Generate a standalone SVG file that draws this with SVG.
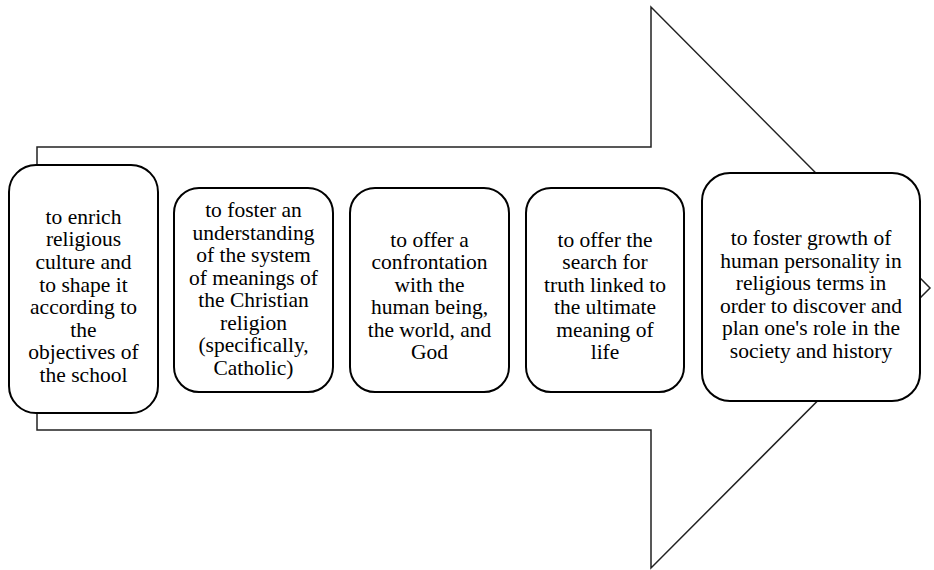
<svg xmlns="http://www.w3.org/2000/svg" width="934" height="570" viewBox="0 0 934 570">
<style>
.box{fill:#fff;stroke:#000;stroke-width:2}
.arrow{fill:#fff;stroke:#222;stroke-width:1.5;stroke-linejoin:miter}
.t{font-family:'Liberation Serif','Times New Roman',serif;font-size:21.5px;fill:#000;text-anchor:middle}
</style>
<rect width="934" height="570" fill="#fff"/>
<g id="connectors">
<path class="arrow" d="M37,147 L651,147 L651,7 L930,288 L651,568 L651,430 L37,430 Z"/>
</g>
<g id="node1">
<rect class="box" x="9" y="165" width="149" height="248" rx="27"/>
<text class="t"><tspan x="83.5" y="223.7">to enrich</tspan><tspan x="83.5" y="246.3">religious</tspan><tspan x="83.5" y="268.9">culture and</tspan><tspan x="83.5" y="291.5">to shape it</tspan><tspan x="83.5" y="314.1">according to</tspan><tspan x="83.5" y="336.7">the</tspan><tspan x="83.5" y="359.3">objectives of</tspan><tspan x="83.5" y="381.9">the school</tspan></text>
</g>
<g id="node2">
<rect class="box" x="174" y="188" width="159" height="204" rx="25"/>
<text class="t"><tspan x="253.5" y="217.3">to foster an</tspan><tspan x="253.5" y="239.8">understanding</tspan><tspan x="253.5" y="262.3">of the system</tspan><tspan x="253.5" y="284.8">of meanings of</tspan><tspan x="253.5" y="307.3">the Christian</tspan><tspan x="253.5" y="329.8">religion</tspan><tspan x="253.5" y="352.3">(specifically,</tspan><tspan x="253.5" y="374.8">Catholic)</tspan></text>
</g>
<g id="node3">
<rect class="box" x="350" y="188" width="159" height="204" rx="25"/>
<text class="t"><tspan x="429.5" y="246.7">to offer a</tspan><tspan x="429.5" y="269.2">confrontation</tspan><tspan x="429.5" y="291.7">with the</tspan><tspan x="429.5" y="314.2">human being,</tspan><tspan x="429.5" y="336.7">the world, and</tspan><tspan x="429.5" y="359.2">God</tspan></text>
</g>
<g id="node4">
<rect class="box" x="526" y="188" width="158" height="204" rx="25"/>
<text class="t"><tspan x="605" y="246.7">to offer the</tspan><tspan x="605" y="269.2">search for</tspan><tspan x="605" y="291.7">truth linked to</tspan><tspan x="605" y="314.2">the ultimate</tspan><tspan x="605" y="336.7">meaning of</tspan><tspan x="605" y="359.2">life</tspan></text>
</g>
<g id="node5">
<rect class="box" x="702" y="173" width="218" height="228" rx="28"/>
<text class="t"><tspan x="811" y="245">to foster growth of</tspan><tspan x="811" y="267.5">human personality in</tspan><tspan x="811" y="290">religious terms in</tspan><tspan x="811" y="312.5">order to discover and</tspan><tspan x="811" y="335">plan one's role in the</tspan><tspan x="811" y="357.5">society and history</tspan></text>
</g>
</svg>
